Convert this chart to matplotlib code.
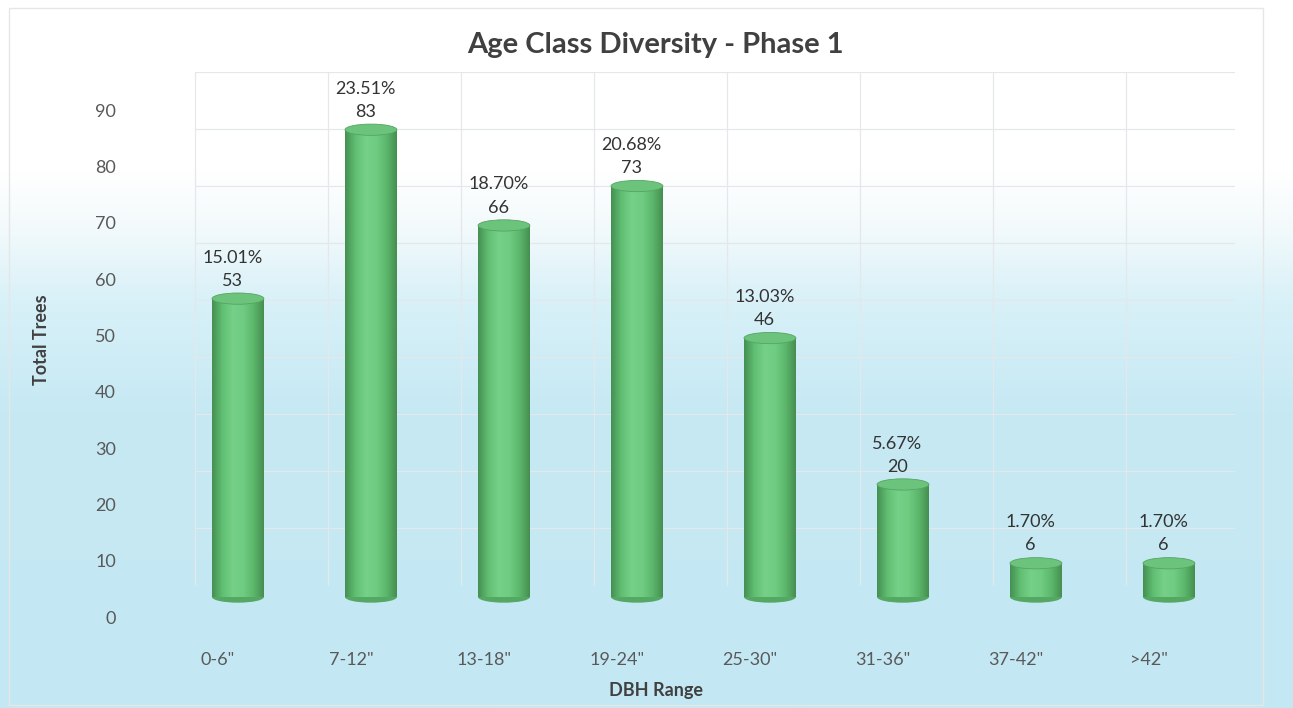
import numpy as np
import matplotlib
matplotlib.use('Agg')
import matplotlib.pyplot as plt
from matplotlib.patches import Ellipse, Rectangle
from matplotlib.colors import LinearSegmentedColormap
from matplotlib.transforms import ScaledTranslation

categories = ['0-6"', '7-12"', '13-18"', '19-24"', '25-30"', '31-36"', '37-42"', '>42"']
trees = [53, 83, 66, 73, 46, 20, 6, 6]
percents = [15.01, 23.51, 18.70, 20.68, 13.03, 5.67, 1.70, 1.70]
yticks = list(range(0, 100, 10))

plt.rcParams['font.family'] = ['Lato', 'DejaVu Sans']

fig = plt.figure(figsize=(12.93, 7.08), dpi=100)

# scanned-page background: white on top fading to a pale cyan
bg = fig.add_axes([0, 0, 1, 1], zorder=-10)
bg_cmap = LinearSegmentedColormap.from_list(
    'bg', [(0, '#c4e8f3'), (0.42, '#c6e9f4'), (0.58, '#d9f1f8'), (0.68, '#f3fafc'),
           (0.76, '#ffffff'), (1, '#ffffff')])
bg.imshow(np.linspace(0, 1, 256).reshape(-1, 1), cmap=bg_cmap, aspect='auto',
          extent=[0, 1, 0, 1], origin='lower')
bg.set_xlim(0, 1)
bg.set_ylim(0, 1)
bg.axis('off')
bg.add_patch(Rectangle((0.007, 0.004), 0.97, 0.985, fill=False, edgecolor='#e6e6e6', lw=1.0))

ax = fig.add_axes([0.1326, 0.1384, 0.8229, 0.7599])
ax.set_facecolor('none')
x = np.arange(len(categories))
ax.set_xlim(-0.5, len(categories) - 0.5)
ax.set_ylim(-2.3, 93.25)

# back wall grid (sits behind and slightly right/up of the cylinders)
grid_x = np.arange(len(categories) + 1) - 0.5 + 0.177
for gx in grid_x:
    ax.vlines(gx, 2.1, 93.2, color='#e4e8ea', lw=0.9, zorder=0)
for v in yticks[1:]:
    ax.hlines(v * 1.012 + 2.1, grid_x[0], grid_x[-1], color='#e4e8ea', lw=0.9, zorder=0)

# cylinders
bar_w = 0.39
body_cmap = LinearSegmentedColormap.from_list(
    'body', ['#458f52', '#60bf72', '#76d088', '#70cc82', '#5cb86c', '#468e51'])
grad = np.linspace(0, 1, 128).reshape(1, -1)
cap_h = 2.0
bars = ax.bar(x, trees, width=bar_w, color='none', edgecolor='none', zorder=2)
for xi, h, b in zip(x, trees, bars):
    im = ax.imshow(grad, cmap=body_cmap, aspect='auto', zorder=2,
                   extent=[xi - bar_w / 2, xi + bar_w / 2, 0, h])
    im.set_clip_path(b)
    ax.add_patch(Ellipse((xi, 0), bar_w, cap_h, facecolor='#55a863', edgecolor='none', zorder=1.9))
    ax.add_patch(Ellipse((xi, h), bar_w, cap_h, facecolor='#6cc47c', edgecolor='#55a462', lw=0.6, zorder=3))

# data labels
for xi, h, p in zip(x, trees, percents):
    ax.annotate('{:.2f}%\n{}'.format(p, h), (xi, h + cap_h / 2), xytext=(-4, 3),
                textcoords='offset points', ha='center', va='bottom',
                fontsize=13, color='#333333', linespacing=1.55)

for s in ax.spines.values():
    s.set_visible(False)
ax.tick_params(length=0)

ax.set_yticks(yticks)
ax.set_yticklabels([str(v) for v in yticks], fontsize=13, color='#595959')
ax.tick_params(axis='y', pad=40)
for lab in ax.get_yticklabels():
    lab.set_transform(lab.get_transform() + ScaledTranslation(0, -0.20, fig.dpi_scale_trans))

ax.set_xticks(x)
ax.set_xticklabels(categories, fontsize=13, color='#595959')
ax.tick_params(axis='x', pad=30)
for lab in ax.get_xticklabels():
    lab.set_transform(lab.get_transform() + ScaledTranslation(-0.20, 0, fig.dpi_scale_trans))

fig.text(0.032, 0.52, 'Total Trees', rotation=90, ha='center', va='center',
         fontsize=13, fontweight='bold', color='#404040')
fig.text(0.507, 0.025, 'DBH Range', ha='center', va='center',
         fontsize=13, fontweight='bold', color='#404040')
fig.text(0.507, 0.936, 'Age Class Diversity - Phase 1', ha='center', va='center',
         fontsize=21, fontweight='bold', color='#404040')

plt.savefig('out.png', dpi=100)
